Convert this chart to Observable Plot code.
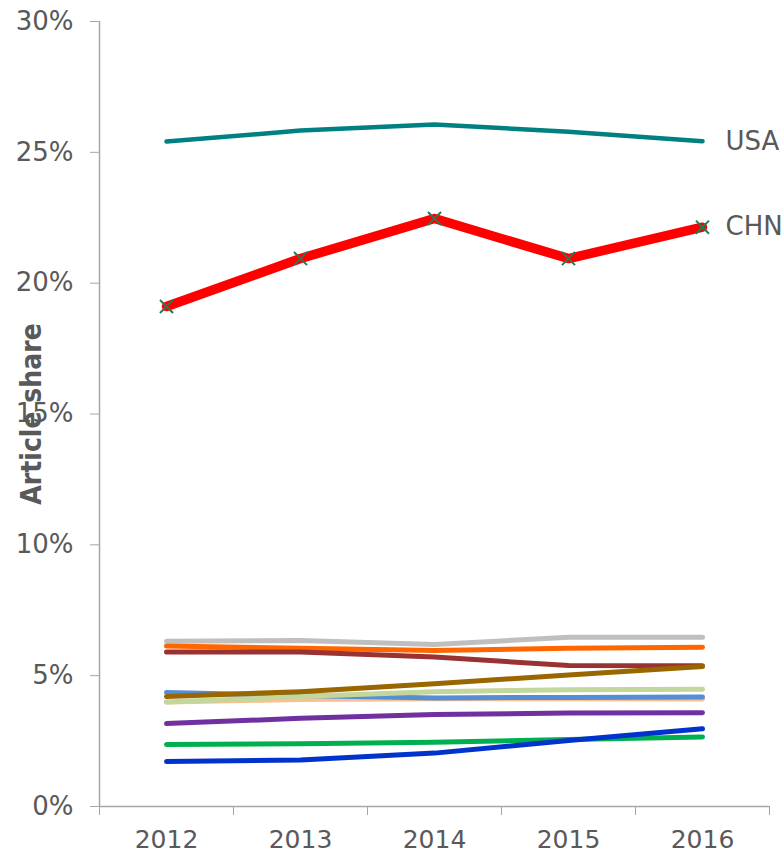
<!DOCTYPE html>
<html>
<head>
<meta charset="utf-8">
<script src="https://cdn.jsdelivr.net/npm/d3@7"></script>
<script src="https://cdn.jsdelivr.net/npm/@observablehq/plot@0.6"></script>
<style>
  html, body { margin: 0; padding: 0; background: #ffffff; }
  #chart { width: 782px; height: 856px; }
</style>
</head>
<body>
<div id="chart"></div>
<script>
// ---- data (article share, %) ----
const years = [2012, 2013, 2014, 2015, 2016];
const yTicks = [0, 5, 10, 15, 20, 25, 30];
const yearBounds = [2011.5, 2012.5, 2013.5, 2014.5, 2015.5, 2016.5];

const usa        = [25.41, 25.83, 26.06, 25.79, 25.42];
const chn        = [19.11, 20.94, 22.47, 20.94, 22.14];
const grayS      = [6.32, 6.34, 6.19, 6.47, 6.47];
const orangeS    = [6.13, 6.05, 5.96, 6.05, 6.09];
const darkRedS   = [5.90, 5.90, 5.71, 5.39, 5.38];
const peachS     = [3.99, 4.09, 4.12, 4.12, 4.11];
const lightBlueS = [4.36, 4.24, 4.15, 4.17, 4.18];
const lightGrnS  = [3.99, 4.20, 4.39, 4.46, 4.48];
const brownS     = [4.20, 4.39, 4.69, 5.03, 5.35];
const purpleS    = [3.17, 3.37, 3.52, 3.57, 3.58];
const greenS     = [2.37, 2.40, 2.46, 2.56, 2.66];
const blueS      = [1.72, 1.78, 2.04, 2.52, 2.97];

const labels = ["USA", "CHN"];

// draw order (bottom first)
const series = [
  {name: "gray",       values: grayS,      color: "#bfbfbf", width: 5},
  {name: "orange",     values: orangeS,    color: "#ff6600", width: 5},
  {name: "darkred",    values: darkRedS,   color: "#993333", width: 5},
  {name: "peach",      values: peachS,     color: "#fac090", width: 5},
  {name: "lightblue",  values: lightBlueS, color: "#558ed5", width: 5},
  {name: "lightgreen", values: lightGrnS,  color: "#c3d69b", width: 5},
  {name: "brown",      values: brownS,     color: "#996600", width: 5},
  {name: "purple",     values: purpleS,    color: "#7030a0", width: 5},
  {name: "green",      values: greenS,     color: "#00b050", width: 5},
  {name: "blue",       values: blueS,      color: "#0033cc", width: 5},
  {name: "USA",        values: usa,        color: "#008080", width: 4.5},
  {name: "CHN",        values: chn,        color: "#ff0000", width: 9.5}
];

const rows = s => years.map((y, i) => ({year: y, value: s.values[i], series: s.name}));

const textColor = "#595959";
const axisColor = "#a6a6a6";

const marks = [
  Plot.axisY({ticks: yTicks, tickFormat: d => d + "%", tickSize: 9, tickPadding: 17,
              fontSize: 26, stroke: axisColor, fill: textColor, label: null}),
  Plot.axisX({ticks: yearBounds, tickFormat: () => "", tickSize: 9, stroke: axisColor, label: null}),
  Plot.axisX({ticks: years, tickFormat: d => String(d), tickSize: 0, tickPadding: 24,
              fontSize: 25, fill: textColor, label: null}),
  Plot.ruleX([2011.5], {stroke: axisColor, strokeWidth: 1.5}),
  Plot.ruleY([0], {stroke: axisColor, strokeWidth: 1.5}),
  ...series.map(s => Plot.line(rows(s), {
    x: "year", y: "value", stroke: s.color, strokeWidth: s.width,
    strokeLinecap: "round", strokeLinejoin: "round"
  })),
  Plot.dot(rows(series[series.length - 1]), {
    x: "year", y: "value", symbol: "times", r: 6, stroke: "#1b7f55", strokeWidth: 2
  }),
  Plot.text([
    {year: years[4], value: usa[4], label: labels[0]},
    {year: years[4], value: chn[4], label: labels[1]}
  ], {x: "year", y: "value", text: "label", dx: 23, textAnchor: "start",
      lineAnchor: "middle", fontSize: 26, fill: textColor}),
  Plot.text(["Article share"], {
    frameAnchor: "left", text: d => d, rotate: -90, dx: -67,
    textAnchor: "middle", lineAnchor: "middle",
    fontSize: 28, fontWeight: "bold", fill: textColor,
    fontFamily: "'DejaVu Sans Condensed', 'Liberation Sans Narrow', sans-serif"
  })
];

const chart = Plot.plot({
  width: 782,
  height: 856,
  marginLeft: 99,
  marginRight: 13,
  marginTop: 21,
  marginBottom: 50,
  style: {fontFamily: "'DejaVu Sans', sans-serif", color: textColor, background: "#ffffff", overflow: "hidden"},
  x: {type: "linear", domain: [2011.5, 2016.5]},
  y: {type: "linear", domain: [0, 30]},
  marks
});
document.getElementById("chart").appendChild(chart);
</script>
</body>
</html>
